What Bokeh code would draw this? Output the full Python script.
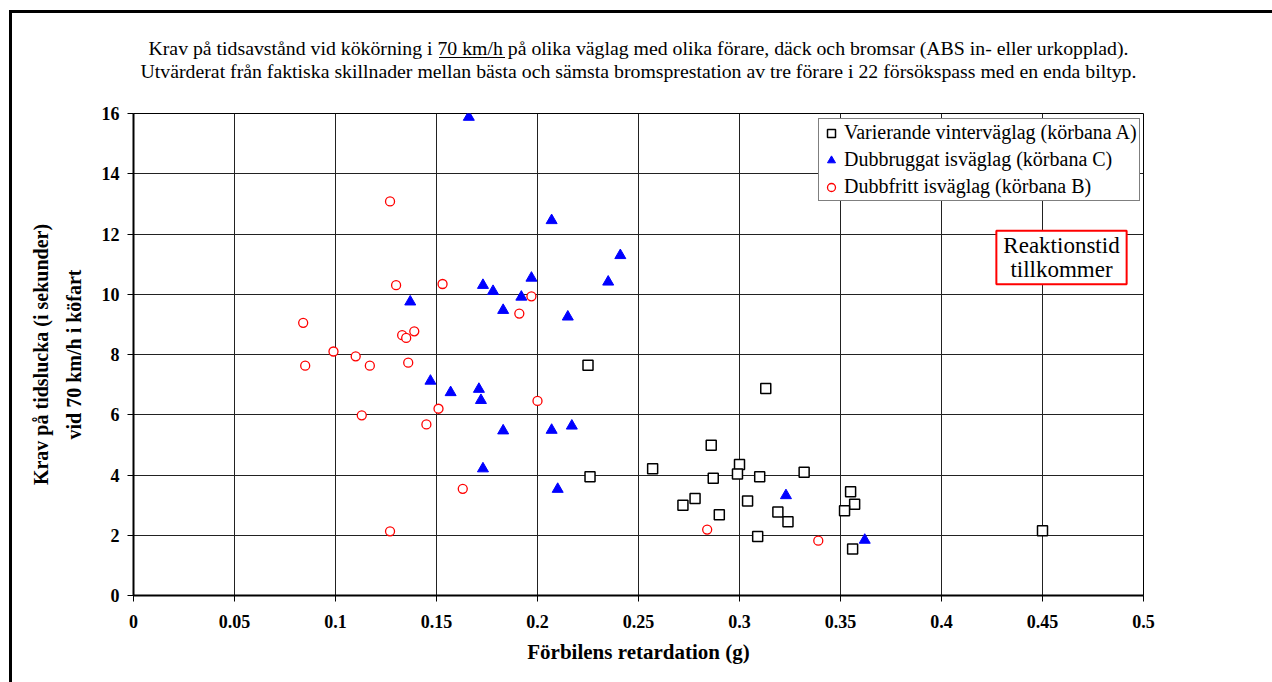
from bokeh.plotting import figure
from bokeh.models import Range1d, Label, Title, FixedTicker, NumeralTickFormatter
from bokeh.embed import file_html
from bokeh.resources import INLINE

# ---- texts ----
title_1 = "Krav på tidsavstånd vid kökörning i 70 km/h på olika väglag med olika förare, däck och bromsar (ABS in- eller urkopplad)."
title_2 = "Utvärderat från faktiska skillnader mellan bästa och sämsta bromsprestation av tre förare i 22 försökspass med en enda biltyp."
x_label = "Förbilens retardation (g)"
y_label = "Krav på tidslucka (i sekunder)\nvid 70 km/h i köfart"
note_text = "Reaktionstid\ntillkommer"

name_A = "Varierande vinterväglag (körbana A)"
name_C = "Dubbruggat isväglag (körbana C)"
name_B = "Dubbfritt isväglag (körbana B)"

x_ticks = [0, 0.05, 0.1, 0.15, 0.2, 0.25, 0.3, 0.35, 0.4, 0.45, 0.5]
y_ticks = [0, 2, 4, 6, 8, 10, 12, 14, 16]

# ---- data ----
x_A = [0.225, 0.226, 0.257, 0.286, 0.300, 0.299, 0.287, 0.278, 0.272, 0.290, 0.304,
       0.313, 0.332, 0.310, 0.319, 0.324, 0.309, 0.355, 0.357, 0.352, 0.356, 0.450]
y_A = [7.64, 3.94, 4.21, 4.99, 4.35, 4.03, 3.89, 3.22, 3.00, 2.68, 3.14,
       6.87, 4.09, 3.94, 2.77, 2.45, 1.96, 3.44, 3.03, 2.81, 1.54, 2.15]

x_C = [0.137, 0.147, 0.157, 0.166, 0.207, 0.241, 0.235, 0.173, 0.178, 0.197, 0.192,
       0.183, 0.215, 0.171, 0.172, 0.183, 0.207, 0.217, 0.173, 0.210, 0.323, 0.362]
y_C = [9.75, 7.12, 6.74, 15.88, 12.45, 11.29, 10.41, 10.30, 10.10, 10.54, 9.91,
       9.47, 9.25, 6.85, 6.48, 5.47, 5.49, 5.63, 4.21, 3.53, 3.32, 1.84]

x_B = [0.127, 0.130, 0.153, 0.084, 0.133, 0.135, 0.139, 0.099, 0.110, 0.136, 0.085,
       0.117, 0.151, 0.113, 0.145, 0.127, 0.200, 0.163, 0.284, 0.197, 0.191, 0.339]
y_B = [13.08, 10.30, 10.34, 9.05, 8.64, 8.55, 8.77, 8.10, 7.94, 7.73, 7.63,
       7.63, 6.20, 5.98, 5.68, 2.13, 6.46, 3.54, 2.19, 9.93, 9.36, 1.82]

SERIF = "Liberation Serif"

# outer chart frame (left and top edges) and the underline of "70 km/h",
# painted as CSS background behind a transparent canvas border
page_bg = ("linear-gradient(#000,#000) 9px 10px / 3px 720px no-repeat, "
           "linear-gradient(#000,#000) 9px 10px / 1300px 3px no-repeat, "
           "linear-gradient(#000,#000) 439px 57px / 66px 1px no-repeat, #fff")

p = figure(width=1272, height=682,
           min_border_left=133, min_border_right=129,
           min_border_top=113, min_border_bottom=87,
           x_range=Range1d(0, 0.5), y_range=Range1d(0, 16),
           output_backend="svg", toolbar_location=None,
           background_fill_color="white", border_fill_alpha=0,
           styles={"background": page_bg})

p.outline_line_color = "black"
p.outline_line_width = 1

# grid
for g in (p.xgrid, p.ygrid):
    g.grid_line_color = "#222222"
    g.grid_line_width = 1
p.xgrid.ticker = FixedTicker(ticks=x_ticks)
p.ygrid.ticker = FixedTicker(ticks=y_ticks)

# axes
p.xaxis.ticker = FixedTicker(ticks=x_ticks)
p.yaxis.ticker = FixedTicker(ticks=y_ticks)
p.xaxis.formatter = NumeralTickFormatter(format="0.[00]")
for ax in (p.xaxis, p.yaxis):
    ax.axis_line_color = "black"
    ax.axis_line_width = 2
    ax.major_tick_line_color = "black"
    ax.major_tick_in = 0
    ax.major_tick_out = 6
    ax.minor_tick_line_color = None
    ax.major_label_text_font = SERIF
    ax.major_label_text_font_style = "bold"
    ax.major_label_text_font_size = "18px"
    ax.major_label_text_color = "black"
    ax.axis_label_text_font = SERIF
    ax.axis_label_text_font_style = "bold"
    ax.axis_label_text_font_size = "20px"
    ax.axis_label_text_color = "black"
p.xaxis.axis_label = x_label
p.xaxis.axis_label_text_font_size = "21px"
p.yaxis.axis_label = y_label
p.yaxis.axis_label_text_line_height = 1.5
p.xaxis.major_label_standoff = 13
p.yaxis.major_label_standoff = 8
p.xaxis.axis_label_standoff = 9
p.yaxis.axis_label_standoff = 14

# series
p.scatter(x_A, y_A, marker="square", size=10, line_color="black", line_width=1.5,
          fill_color="white", legend_label=name_A)
p.scatter(x_C, y_C, marker="triangle", size=11, line_color="#0000FF", line_width=1,
          fill_color="#0000FF", legend_label=name_C)
p.scatter(x_B, y_B, marker="circle", size=9, line_color="#FF0000", line_width=1.3,
          fill_color="white", legend_label=name_B)

lg = p.legend[0]
lg.location = (685, 394)
lg.border_line_color = "black"
lg.border_line_width = 1
lg.background_fill_color = "white"
lg.background_fill_alpha = 1
lg.label_text_font = SERIF
lg.label_text_font_size = "20px"
lg.label_text_color = "black"
lg.padding = 2
lg.margin = 0
lg.spacing = 4
lg.glyph_width = 20
lg.glyph_height = 20
lg.label_height = 20
lg.label_standoff = 3

# two-line title above the plot area
p.add_layout(Title(text=title_1 + "\n" + title_2, standoff=63,
                   text_font=SERIF, text_font_size="19.8px", text_font_style="normal",
                   text_color="black", align="center", text_align="center",
                   text_line_height=1.05),
             "above")

# note box
p.add_layout(Label(x=(1061 - 133) / 2020, y=(595 - 257) / 30.125, text=note_text,
                   text_align="center", text_baseline="middle",
                   text_font=SERIF, text_font_size="23px", text_color="black",
                   text_line_height=0.98,
                   border_line_color="#FF0000", border_line_width=2,
                   background_fill_color="white", padding=(7, 2)))

open("out.html", "w").write(file_html(p, INLINE))
